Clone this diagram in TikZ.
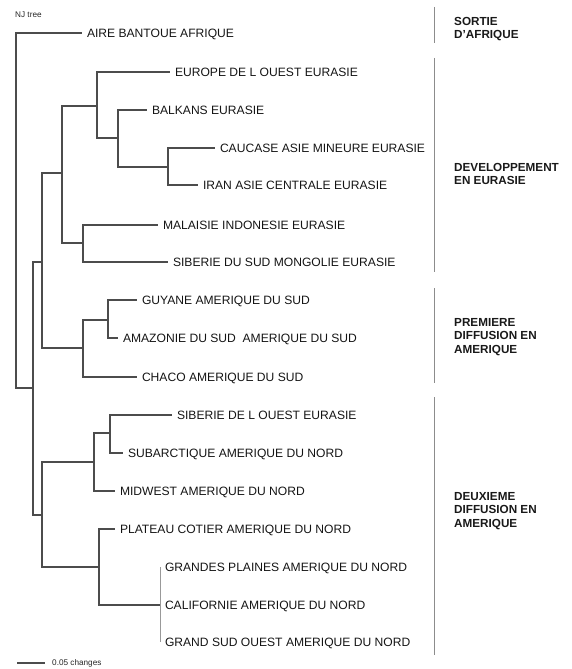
\documentclass[tikz,border=0pt]{standalone}
\usepackage{fontspec}
\setmainfont{Liberation Sans}
\usepackage{tikz}

\begin{document}
\begin{tikzpicture}[x=1pt,y=-1pt,
    branch/.style={draw=black!70,line width=1.1pt},
    faint/.style={draw=black!40,line width=0.8pt},
    bar/.style={draw=black!45,line width=1pt},
    leaf/.style={anchor=west,inner sep=0pt,outer sep=5pt,text depth=0pt,text=black!92,font=\fontsize{12.1}{14}\selectfont},
    small/.style={anchor=west,inner sep=0pt,text=black!85,font=\fontsize{8.2}{10}\selectfont},
    group/.style={anchor=north west,inner sep=0pt,align=left,text=black!90,font=\fontsize{11.7}{13.6}\selectfont\bfseries}]
  \useasboundingbox (0,0) rectangle (571,669);
  \node[small] (title) at (15,15) {NJ tree};
  % internal nodes of the tree
  \coordinate (root) at (16,210);
  \coordinate (nA) at (33,388);
  \coordinate (nB) at (42,262);
  \coordinate (nC) at (42,515);
  \coordinate (nD) at (62,173);
  \coordinate (nE) at (83,348);
  \coordinate (nF) at (83,243);
  \coordinate (nG) at (97,106);
  \coordinate (nH) at (118,138);
  \coordinate (nI) at (168,167);
  \coordinate (nJ) at (108,320);
  \coordinate (nK) at (94,462);
  \coordinate (nL) at (110,433);
  \coordinate (nM) at (99,567);
  \coordinate (nN) at (160,605);
  % leaves
  \node[leaf] (aire) at (82,33) {AIRE BANTOUE AFRIQUE};
  \node[leaf] (europe) at (170,72) {EUROPE DE L OUEST EURASIE};
  \node[leaf] (balkans) at (147,110) {BALKANS EURASIE};
  \node[leaf] (caucase) at (215,148) {CAUCASE ASIE MINEURE EURASIE};
  \node[leaf] (iran) at (198,185) {IRAN ASIE CENTRALE EURASIE};
  \node[leaf] (malaisie) at (158,225) {MALAISIE INDONESIE EURASIE};
  \node[leaf] (sibsud) at (168,262) {SIBERIE DU SUD MONGOLIE EURASIE};
  \node[leaf] (guyane) at (137,300) {GUYANE AMERIQUE DU SUD};
  \node[leaf] (amazonie) at (118,338) {AMAZONIE DU SUD~ AMERIQUE DU SUD};
  \node[leaf] (chaco) at (137,377) {CHACO AMERIQUE DU SUD};
  \node[leaf] (sibouest) at (172,415) {SIBERIE DE L OUEST EURASIE};
  \node[leaf] (subarct) at (123,453) {SUBARCTIQUE AMERIQUE DU NORD};
  \node[leaf] (midwest) at (115,491) {MIDWEST AMERIQUE DU NORD};
  \node[leaf] (plateau) at (115,529) {PLATEAU COTIER AMERIQUE DU NORD};
  \node[leaf] (plaines) at (160,567) {GRANDES PLAINES AMERIQUE DU NORD};
  \node[leaf] (californie) at (160,605) {CALIFORNIE AMERIQUE DU NORD};
  \node[leaf] (grandsud) at (160,642) {GRAND SUD OUEST AMERIQUE DU NORD};
  % branches
  \draw[branch] (root) |- (aire.west) (root) |- (nA);
  \draw[branch] (nA) |- (nB) (nA) |- (nC);
  \draw[branch] (nB) |- (nD) (nB) |- (nE);
  \draw[branch] (nD) |- (nG) (nD) |- (nF);
  \draw[branch] (nG) |- (europe.west) (nG) |- (nH);
  \draw[branch] (nH) |- (balkans.west) (nH) |- (nI);
  \draw[branch] (nI) |- (caucase.west) (nI) |- (iran.west);
  \draw[branch] (nF) |- (malaisie.west) (nF) |- (sibsud.west);
  \draw[branch] (nE) |- (nJ) (nE) |- (chaco.west);
  \draw[branch] (nJ) |- (guyane.west) (nJ) |- (amazonie.west);
  \draw[branch] (nC) |- (nK) (nC) |- (nM);
  \draw[branch] (nK) |- (nL) (nK) |- (midwest.west);
  \draw[branch] (nL) |- (sibouest.west) (nL) |- (subarct.west);
  \draw[branch] (nM) |- (plateau.west) (nM) |- (nN);
  \draw[faint] (plaines.west) -- (grandsud.west);
  % groups
  \draw[bar] (434,7) -- (434,43);
  \draw[bar] (434,58) -- (434,272);
  \draw[bar] (434,288) -- (434,383);
  \draw[bar] (434,397) -- (434,655);
  \node[group] (sortie) at (454,16.8) {SORTIE\\D'AFRIQUE};
  \node[group] (dev) at (454,162.8) {DEVELOPPEMENT\\EN EURASIE};
  \node[group] (prem) at (454,317.8) {PREMIERE\\DIFFUSION EN\\AMERIQUE};
  \node[group] (deux) at (454,491.8) {DEUXIEME\\DIFFUSION EN\\AMERIQUE};
  % scale bar
  \coordinate (sb) at (17,663);
  \node[small] (changes) at (52,663) {0.05 changes};
  \draw[branch] (sb) -- +(28,0);
\end{tikzpicture}
\end{document}
